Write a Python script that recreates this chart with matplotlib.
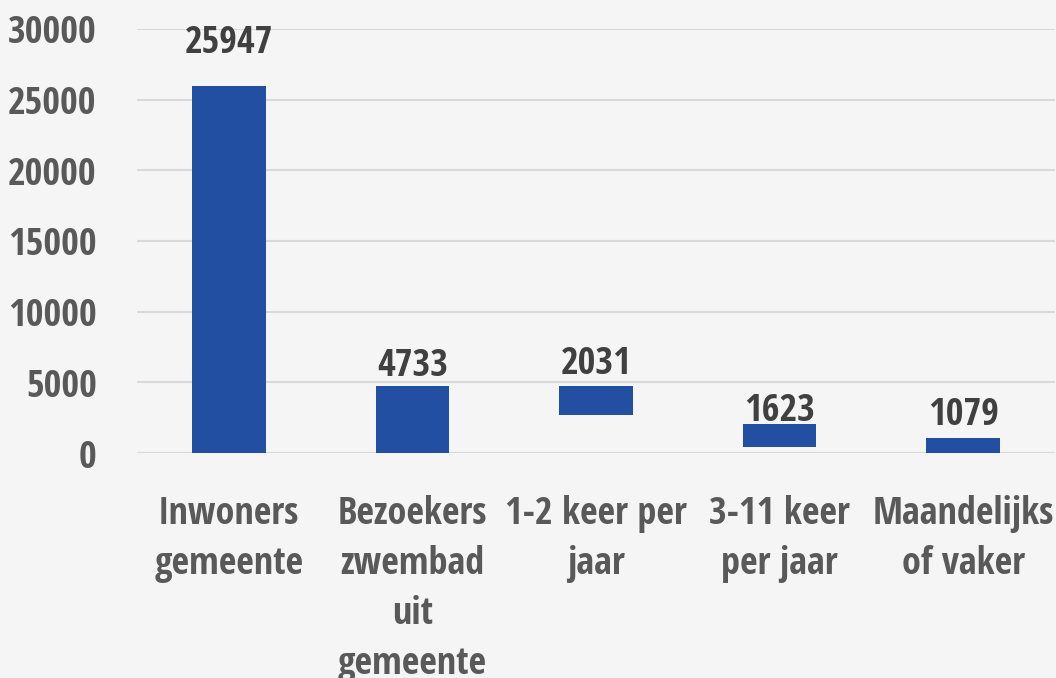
import matplotlib
matplotlib.use('Agg')
import matplotlib.pyplot as plt
from matplotlib import font_manager
from matplotlib.font_manager import FontProperties

# 数据
categories = ['Inwoners\ngemeente', 'Bezoekers\nzwembad\nuit\ngemeente',
              '1-2 keer per\njaar', '3-11 keer\nper jaar', 'Maandelijks\nof vaker']
values = [25947, 4733, 2031, 1623, 1079]
bases = [0, 0, 4733 - 2031, 2031 - 1623, 0]
yticks = [0, 5000, 10000, 15000, 20000, 25000, 30000]


def weight_num(w):
    if isinstance(w, int):
        return w
    return font_manager.weight_dict.get(str(w), 400)


# 找一个粗体窄体字体文件
narrow = None
best = 99
prefer = ['Open Sans', 'Roboto', 'Noto Sans', 'DejaVu Sans', 'Liberation Sans', 'Lato', 'Inter']
for f in font_manager.fontManager.ttflist:
    low = (f.fname + ' ' + f.name).lower()
    is_narrow = (str(f.stretch) in ('condensed', 'semi-condensed', 'extra-condensed')
                 or 'condensed' in low or 'narrow' in low)
    if not is_narrow or weight_num(f.weight) < 600 or f.style != 'normal':
        continue
    rank = 50
    for k, p in enumerate(prefer):
        if f.name.startswith(p):
            rank = k
            break
    if 'semicondensed' in low.replace('-', '').replace(' ', ''):
        rank += 20
    if rank < best:
        best = rank
        narrow = f.fname

if narrow:
    fp = FontProperties(fname=narrow)
    scale = 1.0
else:
    fp = FontProperties(family='Roboto', weight='bold')
    scale = 0.8

bg = '#f5f5f5'
bar_color = '#234fa2'
label_color = '#595959'
value_color = '#404040'

fig = plt.figure(figsize=(10.56, 6.78), dpi=100, facecolor=bg)
ax = fig.add_axes([137 / 1056, 225 / 678, 918 / 1056, 424 / 678])
ax.set_facecolor(bg)

x = range(len(categories))
ax.bar(x, values, bottom=bases, width=0.4, color=bar_color, zorder=3)

# 数值标签 (偏移量, 像素)
offsets = [43, 20, 22, 13, 23]
for i in x:
    top = bases[i] + values[i]
    if i == 2:
        top = 4733
    ax.annotate(str(values[i]), (i, top), xytext=(0, offsets[i] * 0.72),
                textcoords='offset points', ha='center', va='center',
                fontproperties=fp, fontsize=27.5 * scale, color=value_color, zorder=4)

ax.set_xlim(-0.5, 4.5)
ax.set_ylim(0, 30000)
ax.set_yticks(yticks)
ax.set_yticklabels([str(t) for t in yticks])
ax.set_xticks(list(x))
ax.set_xticklabels(categories, linespacing=1.42)
ax.tick_params(axis='y', length=0, pad=29, labelcolor=label_color)
ax.tick_params(axis='x', length=0, pad=30, labelcolor=label_color)
for lab in ax.get_xticklabels() + ax.get_yticklabels():
    lab.set_fontproperties(fp)
    lab.set_fontsize(27.5 * scale)

ax.grid(axis='y', color='#d9d9d9', linewidth=1.5, zorder=0)
for s in ax.spines.values():
    s.set_visible(False)

fig.savefig('out.png', dpi=100, facecolor=bg)
